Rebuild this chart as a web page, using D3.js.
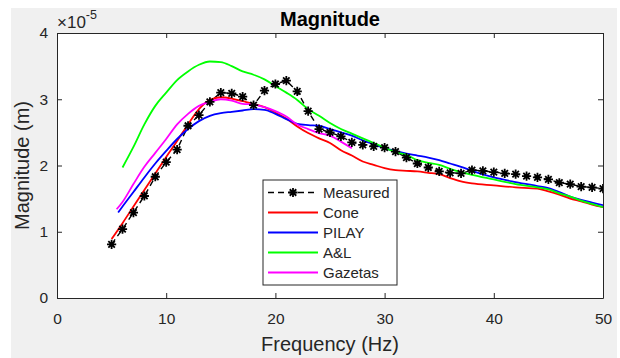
<!DOCTYPE html>
<html>
<head>
<meta charset="utf-8">
<script src="https://cdn.jsdelivr.net/npm/d3@7"></script>
<style>
  body { margin: 0; background: #fff; }
  text { font-family: "Liberation Sans", Arial, sans-serif; fill: #262626; }
</style>
</head>
<body>
<svg id="chart" width="620" height="358"></svg>
<script>
// values are in units of 1e-5 m (axis shows x10^-5)
const measuredFreq = [5,6,7,8,9,10,11,12,13,14,15,16,17,18,19,20,21,22,23,24,25,26,27,28,29,30,31,32,33,34,35,36,37,38,39,40,41,42,43,44,45,46,47,48,49,50];
const measuredMag = [0.81,1.04,1.29,1.54,1.83,2.05,2.24,2.60,2.76,2.96,3.10,3.09,3.04,2.91,3.13,3.23,3.28,3.12,2.82,2.55,2.50,2.44,2.35,2.31,2.29,2.27,2.21,2.12,2.03,1.97,1.91,1.89,1.88,1.93,1.92,1.90,1.88,1.87,1.84,1.82,1.79,1.74,1.72,1.68,1.67,1.65];

const coneFreq = [5,6,7,8,9,10,11,12,13,14,15,16,17,18,19,20,21,22,23,24,25,26,27,28,29,30,31,32,33,34,35,36,37,38,40,42,44,45,46,47,48,49,50];
const coneMag = [0.89,1.13,1.38,1.63,1.88,2.13,2.37,2.62,2.85,2.99,3.03,3.01,2.97,2.93,2.88,2.80,2.71,2.59,2.49,2.41,2.34,2.23,2.15,2.06,2.01,1.96,1.93,1.92,1.91,1.89,1.87,1.81,1.76,1.73,1.70,1.67,1.65,1.61,1.56,1.50,1.46,1.41,1.37];

const pilayFreq = [5.6,6,7,8,9,10,11,12,13,14,15,16,17,18,19,20,21,22,23,24,25,26,27,28,29,30,31,32,33,34,35,36,37,38,40,42,44,45,46,47,48,49,50];
const pilayMag = [1.29,1.38,1.60,1.82,2.03,2.22,2.40,2.55,2.67,2.75,2.79,2.81,2.83,2.85,2.84,2.78,2.70,2.63,2.61,2.60,2.55,2.50,2.45,2.38,2.32,2.26,2.22,2.18,2.15,2.12,2.08,2.03,1.98,1.92,1.82,1.75,1.69,1.66,1.60,1.53,1.48,1.44,1.40];

const alFreq = [6,7,8,9,10,11,12,13,14,15,16,17,18,19,20,21,22,23,24,25,26,27,28,29,30,31,32,33,34,35,36,37,38,40,42,44,45,46,47,48,49,50];
const alMag = [1.97,2.28,2.62,2.90,3.10,3.29,3.42,3.52,3.57,3.56,3.50,3.42,3.37,3.30,3.20,3.10,2.99,2.85,2.75,2.64,2.55,2.48,2.41,2.34,2.27,2.20,2.16,2.08,2.04,2.01,1.95,1.90,1.86,1.79,1.72,1.67,1.64,1.58,1.53,1.47,1.42,1.37];

const gazetasFreq = [5.46,6,7,8,9,10,11,12,13,14,15,16,17,18,19,20,21,22,23,24,25,26,27];
const gazetasMag = [1.34,1.45,1.72,1.98,2.19,2.40,2.62,2.78,2.90,2.96,3.00,2.98,2.93,2.92,2.88,2.82,2.74,2.62,2.55,2.49,2.45,2.36,2.26];

const xTicks = [0,10,20,30,40,50];
const yTicks = [0,1,2,3,4];

const series = [
  { name: "Cone", freq: coneFreq, mag: coneMag, color: "#ff0000" },
  { name: "PILAY", freq: pilayFreq, mag: pilayMag, color: "#0000ff" },
  { name: "A&L", freq: alFreq, mag: alMag, color: "#00ff00" },
  { name: "Gazetas", freq: gazetasFreq, mag: gazetasMag, color: "#ff00ff" }
];

const svg = d3.select("#chart");
const m = { left: 57, right: 603, top: 33, bottom: 298 };

// figure background
svg.append("rect").attr("x", 11).attr("y", 8).attr("width", 606).attr("height", 350).attr("fill", "#f0f0f0");
svg.append("rect").attr("x", m.left).attr("y", m.top).attr("width", m.right - m.left).attr("height", m.bottom - m.top).attr("fill", "#fff");

const x = d3.scaleLinear().domain([0, 50]).range([m.left, m.right]);
const y = d3.scaleLinear().domain([0, 4]).range([m.bottom, m.top]);

svg.append("clipPath").attr("id", "plotclip")
  .append("rect").attr("x", m.left).attr("y", m.top).attr("width", m.right - m.left).attr("height", m.bottom - m.top);

const plot = svg.append("g").attr("clip-path", "url(#plotclip)");

const line = d3.line()
  .x(d => x(d[0]))
  .y(d => y(d[1]))
  .curve(d3.curveMonotoneX);

// measured: dashed with star markers
plot.append("path")
  .datum(measuredFreq.map((f, i) => [f, measuredMag[i]]))
  .attr("fill", "none")
  .attr("stroke", "#000")
  .attr("stroke-width", 1.4)
  .attr("stroke-dasharray", "6,4")
  .attr("d", d3.line().x(d => x(d[0])).y(d => y(d[1])));

// model lines
series.forEach(s => {
  plot.append("path")
    .datum(s.freq.map((f, i) => [f, s.mag[i]]))
    .attr("fill", "none")
    .attr("stroke", s.color)
    .attr("stroke-width", 1.8)
    .attr("d", line);
});

// star marker like matlab '*'
const star = r => {
  const a = r * Math.SQRT1_2;
  return `M${-r},0L${r},0M0,${-r}L0,${r}M${-a},${-a}L${a},${a}M${-a},${a}L${a},${-a}`;
};

plot.append("g")
  .selectAll("path")
  .data(measuredFreq.map((f, i) => [f, measuredMag[i]]))
  .join("path")
  .attr("transform", d => `translate(${x(d[0])},${y(d[1])})`)
  .attr("d", star(4.6))
  .attr("stroke", "#000")
  .attr("stroke-width", 1.8)
  .attr("fill", "none");

// axes with inward ticks
const gx = svg.append("g").attr("transform", `translate(0,${m.bottom})`)
  .call(d3.axisBottom(x).tickValues(xTicks).tickSize(-5).tickSizeOuter(0).tickPadding(15).tickFormat(d3.format("d")));
const gxTop = svg.append("g").attr("transform", `translate(0,${m.top})`)
  .call(d3.axisTop(x).tickValues(xTicks).tickSize(-5).tickSizeOuter(0).tickFormat(""));
const gy = svg.append("g").attr("transform", `translate(${m.left},0)`)
  .call(d3.axisLeft(y).tickValues(yTicks).tickSize(-5).tickSizeOuter(0).tickPadding(9).tickFormat(d3.format("d")));
const gyRight = svg.append("g").attr("transform", `translate(${m.right},0)`)
  .call(d3.axisRight(y).tickValues(yTicks).tickSize(-5).tickSizeOuter(0).tickFormat(""));

[gx, gxTop, gy, gyRight].forEach(g => {
  g.select(".domain").attr("stroke", "#262626");
  g.selectAll(".tick line").attr("stroke", "#262626");
  g.selectAll("text")
    .attr("font-family", "'Liberation Sans', Arial, sans-serif")
    .attr("font-size", 15.5)
    .attr("fill", "#262626");
});

// title and labels
svg.append("text")
  .attr("x", (m.left + m.right) / 2).attr("y", 26)
  .attr("text-anchor", "middle")
  .attr("font-size", 20).attr("font-weight", "bold")
  .style("fill", "#000")
  .text("Magnitude");

const expo = svg.append("text").attr("x", 57).attr("y", 28).attr("font-size", 17);
expo.append("tspan").text("\u00d710");
expo.append("tspan").attr("dy", -9).attr("font-size", 12.5).text("-5");

svg.append("text")
  .attr("x", (m.left + m.right) / 2).attr("y", 351)
  .attr("text-anchor", "middle")
  .attr("font-size", 20)
  .text("Frequency (Hz)");

svg.append("text")
  .attr("transform", `translate(29,${(m.top + m.bottom) / 2}) rotate(-90)`)
  .attr("text-anchor", "middle")
  .attr("font-size", 20)
  .text("Magnitude (m)");

// legend
const legend = svg.append("g").attr("transform", "translate(263,180)");
legend.append("rect")
  .attr("width", 134).attr("height", 105)
  .attr("fill", "#fff").attr("stroke", "#262626").attr("stroke-width", 1);

const legendItems = [{ name: "Measured", color: "#000", dashed: true }].concat(series);
const rows = legend.selectAll("g.row")
  .data(legendItems)
  .join("g")
  .attr("class", "row")
  .attr("transform", (d, i) => `translate(0,${12.5 + i * 20})`);

rows.append("line")
  .attr("x1", 5).attr("x2", 55).attr("y1", 0).attr("y2", 0)
  .attr("stroke", d => d.color)
  .attr("stroke-width", d => d.dashed ? 1.4 : 1.8)
  .attr("stroke-dasharray", d => d.dashed ? "6,4" : null);

rows.filter(d => d.dashed).append("path")
  .attr("transform", "translate(30,0)")
  .attr("d", star(4.6))
  .attr("stroke", "#000").attr("stroke-width", 1.8);

rows.append("text")
  .attr("x", 60).attr("y", 5.5)
  .attr("font-size", 15)
  .text(d => d.name);
</script>
</body>
</html>
